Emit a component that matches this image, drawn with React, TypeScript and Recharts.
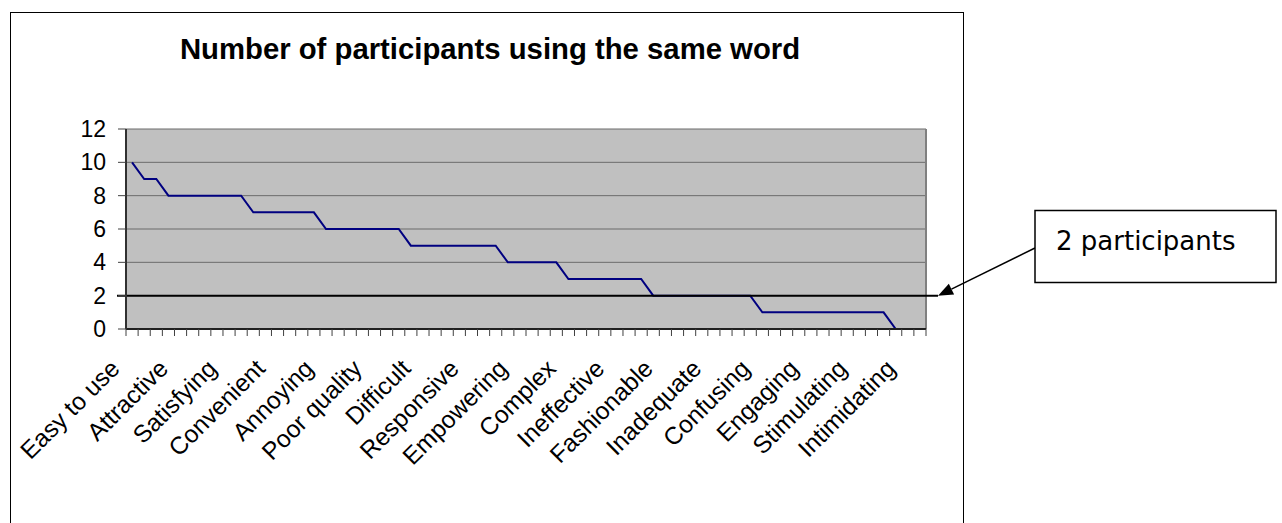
import { LineChart, Line, XAxis, YAxis, CartesianGrid, ReferenceLine } from "recharts";

const title = "Number of participants using the same word";
const calloutText = "2 participants";

// every 4th word is printed on the axis
const words = [
  "Easy to use",
  "Attractive",
  "Satisfying",
  "Convenient",
  "Annoying",
  "Poor quality",
  "Difficult",
  "Responsive",
  "Empowering",
  "Complex",
  "Ineffective",
  "Fashionable",
  "Inadequate",
  "Confusing",
  "Engaging",
  "Stimulating",
  "Intimidating",
];

// participants per word, one entry per category (66 words)
const counts = [
  10, 9, 9, 8, 8, 8, 8, 8, 8, 8,
  7, 7, 7, 7, 7, 7, 6, 6, 6, 6,
  6, 6, 6, 5, 5, 5, 5, 5, 5, 5,
  5, 4, 4, 4, 4, 4, 3, 3, 3, 3,
  3, 3, 3, 2, 2, 2, 2, 2, 2, 2,
  2, 2, 1, 1, 1, 1, 1, 1, 1, 1,
  1, 1, 1, 0, 0, 0,
];

const yTicks = [0, 2, 4, 6, 8, 10, 12];
const threshold = 2;

const CHART_W = 1282;
const CHART_H = 523;
const PLOT_LEFT = 126;
const PLOT_RIGHT = 926;
const PLOT_TOP = 129;
const PLOT_BOTTOM = 329;
const X_AXIS_H = 150;
const Y_AXIS_W = 60;
const LABEL_EVERY = 4;
const FONT = "'Liberation Sans', Arial, sans-serif";

const data = counts.map((v, i) => ({ i, v }));
// Excel-style tick marks sit between categories
const boundaries = [...counts.map((_, i) => i - 0.5), counts.length - 0.5];
const step = (PLOT_RIGHT - PLOT_LEFT) / counts.length;

function WordTick({ x, y, payload }: any) {
  const cat = payload.value + 0.5;
  if (cat % LABEL_EVERY !== 0 || cat >= counts.length) return <g />;
  const ax = x + step / 2 - 11;
  const ay = y + 32;
  return (
    <text
      x={ax}
      y={ay}
      textAnchor="end"
      transform={`rotate(-45, ${ax}, ${ay})`}
      fontSize={24.5}
      fontFamily={FONT}
      fill="#000"
    >
      {words[cat / LABEL_EVERY]}
    </text>
  );
}

// threshold line runs a bit past the plot, with the callout pointing at its end
function ThresholdLine(p: any) {
  const { x1, x2, y1 } = p;
  const tipX = x2 + 12;
  const sx = 1035;
  const sy = 248;
  const dx = tipX - sx;
  const dy = y1 - sy;
  const len = Math.hypot(dx, dy);
  const ux = dx / len;
  const uy = dy / len;
  const bx = tipX - ux * 15;
  const by = y1 - uy * 15;
  const head = `${tipX},${y1} ${bx - uy * 6},${by + ux * 6} ${bx + uy * 6},${by - ux * 6}`;
  return (
    <g>
      <line x1={x1 - 9} x2={tipX} y1={y1} y2={y1} stroke="#000" strokeWidth={2} />
      <line x1={sx} y1={sy} x2={bx} y2={by} stroke="#000" strokeWidth={1.5} />
      <polygon points={head} fill="#000" />
      <rect x={1035} y={210.5} width={241} height={72} fill="#fff" stroke="#000" strokeWidth={1.5} />
      <text x={1056} y={250} fontSize={26} fontFamily="'DejaVu Sans', Verdana, sans-serif" fill="#000">
        {calloutText}
      </text>
    </g>
  );
}

export default function App() {
  return (
    <div style={{ position: "absolute", left: 0, top: 0, width: CHART_W, height: CHART_H, background: "#fff", overflow: "hidden" }}>
      <svg width={CHART_W} height={CHART_H} style={{ position: "absolute", left: 0, top: 0 }}>
        <rect x={10.5} y={12.5} width={953} height={600} fill="none" stroke="#000" strokeWidth={1} />
        <text x={490} y={59} textAnchor="middle" fontSize={29.3} fontWeight="bold" fontFamily={FONT} fill="#000">
          {title}
        </text>
      </svg>
      <div style={{ position: "absolute", left: 0, top: 0 }}>
        <LineChart
          width={CHART_W}
          height={CHART_H}
          data={data}
          margin={{
            top: PLOT_TOP,
            right: CHART_W - PLOT_RIGHT,
            bottom: CHART_H - PLOT_BOTTOM - X_AXIS_H,
            left: PLOT_LEFT - Y_AXIS_W,
          }}
        >
          <CartesianGrid vertical={false} fill="#C0C0C0" stroke="#6b6b6b" strokeWidth={1} fillOpacity={1} />
          <XAxis
            dataKey="i"
            type="number"
            domain={[-0.5, counts.length - 0.5]}
            ticks={boundaries}
            interval={0}
            height={X_AXIS_H}
            tickSize={7}
            tickMargin={2}
            axisLine={{ stroke: "#202020", strokeWidth: 2 }}
            tickLine={{ stroke: "#404040" }}
            tick={<WordTick />}
          />
          <YAxis
            domain={[0, 12]}
            ticks={yTicks}
            interval={0}
            width={Y_AXIS_W}
            tickSize={8}
            tickMargin={12}
            axisLine={{ stroke: "#303030", strokeWidth: 2 }}
            tickLine={{ stroke: "#404040" }}
            tick={{ fill: "#000", fontSize: 23, fontFamily: FONT }}
          />
          <ReferenceLine x={counts.length - 0.5} stroke="#808080" strokeWidth={2} />
          <Line
            type="linear"
            dataKey="v"
            stroke="#000080"
            strokeWidth={2}
            dot={false}
            isAnimationActive={false}
          />
          <ReferenceLine y={threshold} shape={ThresholdLine} />
        </LineChart>
      </div>
    </div>
  );
}
